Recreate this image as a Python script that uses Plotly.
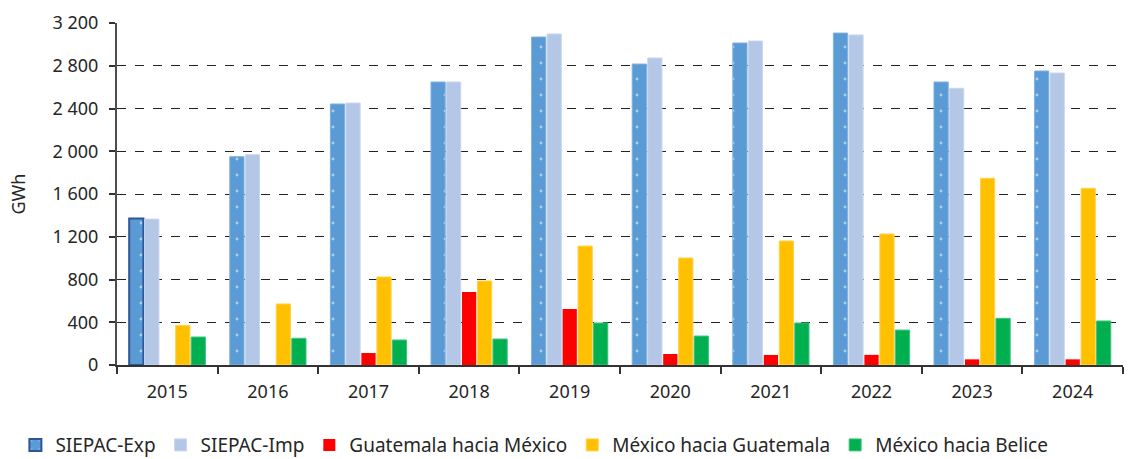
import plotly.graph_objects as go

years = ["2015", "2016", "2017", "2018", "2019", "2020", "2021", "2022", "2023", "2024"]
siepac_exp = [1370, 1949, 2442, 2648, 3069, 2816, 3013, 3106, 2648, 2751]
siepac_imp = [1365, 1968, 2451, 2648, 3097, 2872, 3031, 3088, 2589, 2732]
guate_mex = [0, 0, 112, 683, 524, 103, 94, 95, 53, 53]
mex_guate = [371, 571, 823, 786, 1113, 1001, 1160, 1226, 1747, 1653]
mex_belice = [262, 250, 234, 243, 393, 271, 393, 327, 437, 412]
y_ticks = [0, 400, 800, 1200, 1600, 2000, 2400, 2800, 3200]

FONT = "Noto Sans"
TXT = "#262626"
FS = 18

fig = go.Figure()

exp_line_colors = ["#2F5597"] + ["#7FB1E0"] * (len(years) - 1)
exp_line_widths = [2] + [1] * (len(years) - 1)

fig.add_trace(go.Bar(
    name="SIEPAC-Exp", x=years, y=siepac_exp,
    marker=dict(color="#5B9BD5",
                line=dict(color=exp_line_colors, width=exp_line_widths),
                pattern=dict(shape=".", fgcolor="white", bgcolor="#5B9BD5",
                             size=16, solidity=0.025, fillmode="overlay")),
))
fig.add_trace(go.Bar(
    name="SIEPAC-Imp", x=years, y=siepac_imp,
    marker=dict(color="#B4C7E7", line=dict(color="#C8D6EE", width=1)),
))
fig.add_trace(go.Bar(
    name="Guatemala hacia México", x=years, y=guate_mex,
    marker=dict(color="#FF0000", line=dict(width=0)),
))
fig.add_trace(go.Bar(
    name="México hacia Guatemala", x=years, y=mex_guate,
    marker=dict(color="#FFC000", line=dict(color="#FFD24D", width=1)),
))
fig.add_trace(go.Bar(
    name="México hacia Belice", x=years, y=mex_belice,
    marker=dict(color="#00B050", line=dict(color="#40C47C", width=1)),
))

fig.update_layout(
    width=1130, height=459,
    margin=dict(l=117, r=7, t=23, b=94, autoexpand=False),
    paper_bgcolor="white", plot_bgcolor="white",
    font=dict(family=FONT, size=FS, color=TXT),
    separators=", ",
    barmode="group", bargap=0.23, bargroupgap=0.08,
    showlegend=True,
    legend=dict(orientation="h", x=-0.101, xanchor="left", y=-0.234, yanchor="middle",
                font=dict(family=FONT, size=19, color=TXT),
                itemwidth=30, tracegroupgap=0, traceorder="normal"),
)

fig.update_xaxes(
    type="category", showgrid=False, showline=True, linecolor="#333333", linewidth=1.5,
    ticks="outside", tickson="boundaries", ticklen=7, tickcolor="#333333", tickwidth=1.5,
    tickfont=dict(family=FONT, size=FS, color=TXT), automargin=False,
    ticklabelstandoff=10,
)
fig.update_yaxes(
    range=[0, 3200], tickvals=y_ticks, tickformat=",d",
    showgrid=True, gridcolor="#222222", gridwidth=1.3, griddash="dash",
    showline=True, linecolor="#4d4d4d", linewidth=2,
    ticks="outside", ticklen=6, tickcolor="#333333", tickwidth=1.5,
    tickfont=dict(family=FONT, size=FS, color=TXT),
    zeroline=False, automargin=False, ticklabelstandoff=7,
    title=dict(text="GWh", font=dict(family=FONT, size=FS, color=TXT), standoff=22),
)

fig.write_html("out.html", config={"displayModeBar": False},
               post_script="document.body.style.margin='0';")
